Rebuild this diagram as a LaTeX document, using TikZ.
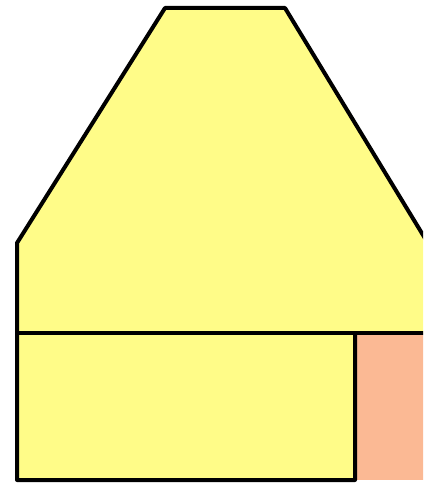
\documentclass[tikz,border=0pt]{standalone}
\definecolor{shapeyellow}{HTML}{FFFC88}
\definecolor{shapeorange}{HTML}{FBB994}
\tikzset{outline/.style={draw=black,line width=4pt,line join=round,line cap=round}}
\begin{document}
\begin{tikzpicture}[x=1pt,y=-1pt]
\useasboundingbox (0,0) rectangle (423,486);
\clip (0,0) rectangle (423,486);
% upper yellow part
\fill[shapeyellow] (165,8) -- (285,8) -- (440,263) -- (440,333) -- (17,333) -- (17,243) -- cycle;
% lower left yellow box
\fill[shapeyellow] (17,333) rectangle (355,480);
% lower right orange box
\fill[shapeorange] (355,333) rectangle (440,480);
% outlines
\draw[outline] (440,263) -- (285,8) -- (165,8) -- (17,243) -- (17,480) -- (355,480) -- (355,333);
\draw[outline] (17,333) -- (440,333);
\end{tikzpicture}
\end{document}
